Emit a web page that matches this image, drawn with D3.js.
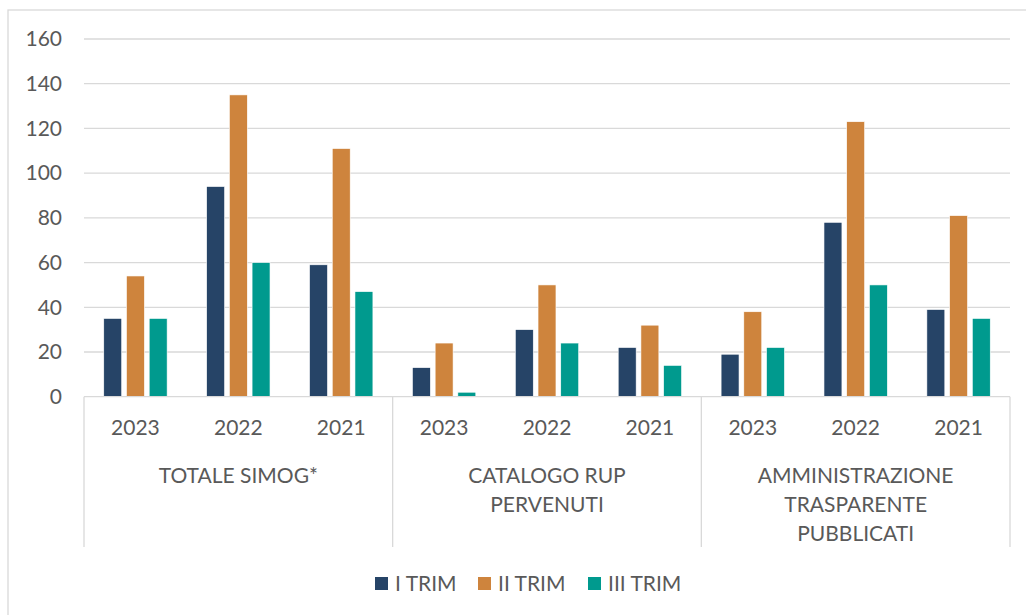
<!DOCTYPE html>
<html><head><meta charset="utf-8">
<script src="https://cdn.jsdelivr.net/npm/d3@7"></script>
<style>
html,body{margin:0;padding:0;background:#fff;}
svg{display:block;font-family:Lato,"Open Sans",sans-serif;}
</style></head>
<body>
<svg id="chart" width="1026" height="615"></svg>
<script>
const groups = [["TOTALE SIMOG*"],["CATALOGO RUP","PERVENUTI"],["AMMINISTRAZIONE","TRASPARENTE","PUBBLICATI"]];
const years = ["2023","2022","2021"];
const series = ["I TRIM","II TRIM","III TRIM"];
const colors = ["#264467","#CE843D","#009A8E"];
// values per category (group x year), order 2023, 2022, 2021
const trimI   = [35, 94, 59, 13, 30, 22, 19, 78, 39];
const trimII  = [54, 135, 111, 24, 50, 32, 38, 123, 81];
const trimIII = [35, 60, 47, 2, 24, 14, 22, 50, 35];
const yTicks = [0,20,40,60,80,100,120,140,160];

(function(){
const seriesVals = [trimI, trimII, trimIII];
const cats = [];
groups.forEach((g,gi)=>years.forEach((yr,yi)=>cats.push({id:gi+"-"+yr, g:gi, year:yr, idx:gi*3+yi})));

const svg = d3.select("#chart");
const pL=84, pR=1010, pT=39, pB=396.7;
const textColor="#595959", gridColor="#d9d9d9";
const fs = 21;

// outer border
svg.append("rect").attr("x",8).attr("y",10).attr("width",1040).attr("height",640)
  .attr("fill","none").attr("stroke",gridColor).attr("stroke-width",1.3);

const y = d3.scaleLinear().domain([0,160]).range([pB, pT]);
const x0 = d3.scaleBand().domain(cats.map(c=>c.id)).range([pL,pR]);
const x1 = d3.scaleBand().domain(series).range([0,x0.bandwidth()]).paddingInner(0.21).paddingOuter(0.87);
const xg = d3.scaleBand().domain(d3.range(groups.length)).range([pL,pR]);

// gridlines
svg.append("g").selectAll("line").data(yTicks.filter(t=>t>0)).join("line")
  .attr("x1",pL).attr("x2",pR).attr("y1",d=>y(d)).attr("y2",d=>y(d))
  .attr("stroke",gridColor).attr("stroke-width",1.3);

// y axis labels
const yAxis = d3.axisLeft(y).tickValues(yTicks).tickSize(0).tickPadding(22);
const ya = svg.append("g").attr("transform",`translate(${pL},0)`).call(yAxis);
ya.select(".domain").remove();
ya.selectAll("text").attr("fill",textColor).attr("font-size",fs).attr("font-family","Lato");

// bars
const cg = svg.append("g").selectAll("g").data(cats).join("g")
  .attr("transform",d=>`translate(${x0(d.id)},0)`);
cg.selectAll("rect").data(d=>series.map((s,si)=>({s, si, v:seriesVals[si][d.idx]}))).join("rect")
  .attr("x",d=>x1(d.s)).attr("width",x1.bandwidth())
  .attr("y",d=>y(d.v)).attr("height",d=>y(0)-y(d.v))
  .attr("fill",d=>colors[d.si]).attr("stroke","#ffffff").attr("stroke-width",0.6);

// category axis line
svg.append("line").attr("x1",pL).attr("x2",pR).attr("y1",pB).attr("y2",pB)
  .attr("stroke",gridColor).attr("stroke-width",1.3);
// separators
const seps = d3.range(groups.length+1).map(i=> i<groups.length ? xg(i) : pR);
svg.append("g").selectAll("line").data(seps).join("line")
  .attr("x1",d=>d).attr("x2",d=>d).attr("y1",pB).attr("y2",547)
  .attr("stroke",gridColor).attr("stroke-width",1.3);

// year labels
const xAxis = d3.axisBottom(x0).tickSize(0).tickPadding(23).tickFormat(id=>id.split("-")[1]);
const xa = svg.append("g").attr("transform",`translate(0,${pB})`).call(xAxis);
xa.select(".domain").remove();
xa.selectAll("text").attr("fill",textColor).attr("font-size",fs).attr("font-family","Lato");

// group labels
const gl = svg.append("g").selectAll("text").data(groups).join("text")
  .attr("x",(d,i)=>xg(i)+xg.bandwidth()/2).attr("y",483)
  .attr("text-anchor","middle").attr("fill",textColor).attr("font-size",fs);
gl.selectAll("tspan").data(d=>d).join("tspan")
  .attr("x",function(){return this.parentNode.getAttribute("x");})
  .attr("dy",(d,i)=>i===0?0:29).text(d=>d);

// legend
const legendX = [375, 478, 588];
const lg = svg.append("g").selectAll("g").data(series).join("g")
  .attr("transform",(d,i)=>`translate(${legendX[i]},577)`);
lg.append("rect").attr("width",13).attr("height",13).attr("fill",(d,i)=>colors[i]);
lg.append("text").attr("x",20).attr("y",14).attr("fill",textColor).attr("font-size",fs).text(d=>d);
})();
</script>
</body></html>
